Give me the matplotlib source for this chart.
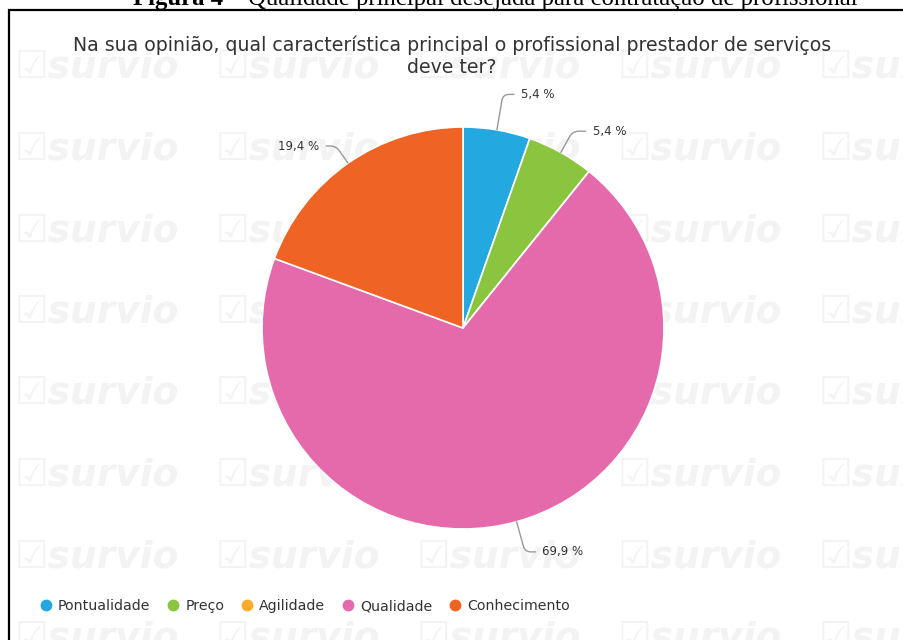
import numpy as np
import matplotlib
matplotlib.use("Agg")
import matplotlib.pyplot as plt
import matplotlib.transforms as mtransforms
from matplotlib.lines import Line2D

# ---- data ----
categories = ["Pontualidade", "Preço", "Agilidade", "Qualidade", "Conhecimento"]
values = [5.4, 5.4, 0.0, 69.9, 19.4]
value_labels = ["5,4 %", "5,4 %", "", "69,9 %", "19,4 %"]
title = "Na sua opinião, qual característica principal o profissional prestador de serviços\ndeve ter?"
caption_bold = "Figura 4"
caption_rest = " – Qualidade principal desejada para contratação de profissional"

# ---- style ----
colors = ["#23a8e0", "#8bc43f", "#fbab2c", "#e46aac", "#ef6424"]
label_angle_shift = [-8.0, -7.5, 0.0, 8.6, 7.2]
label_dist = 1.22

W, H = 904, 640
fig = plt.figure(figsize=(W / 100, H / 100), dpi=100)
fig.patch.set_facecolor("white")

# background axes in pixel coordinates
bg = fig.add_axes([0, 0, 1, 1], zorder=0)
bg.set_xlim(0, W)
bg.set_ylim(H, 0)
bg.axis("off")

# watermarks
for row_y in np.arange(68, 700, 81.5):
    for col_x in np.arange(15, 950, 201):
        bg.text(col_x, row_y, "☑survio", fontsize=27, fontweight="bold",
                fontstyle="italic", color="#f3f3f3", va="center", ha="left",
                family="DejaVu Sans", zorder=0)

# border
bg.plot([9, 9, W + 5], [H + 5, 10, 10], color="black", lw=1.6, zorder=5,
        solid_joinstyle="miter", clip_on=False)

# caption (cut off at top)
cap_size = 17.8
t1 = bg.text(133, 5.5, caption_bold, fontsize=cap_size, fontweight="bold",
             family="Liberation Serif", va="baseline", ha="left", color="black")
fig.canvas.draw()
r = fig.canvas.get_renderer()
bb = t1.get_window_extent(r)
bg.text(bb.x1, 5.5, caption_rest, fontsize=cap_size, family="Liberation Serif",
        va="baseline", ha="left", color="black",
        transform=mtransforms.blended_transform_factory(
            mtransforms.IdentityTransform(), bg.transData))

# title
bg.text(452, 56, title, fontsize=13.6, color="#333333", ha="center",
        va="center", linespacing=1.2, family="DejaVu Sans", zorder=3)

# pie axes: centre (463, 328), radius 201 px
cx, cy, rad = 463, 328, 201
ax = fig.add_axes([(cx - rad) / W, (H - cy - rad) / H, 2 * rad / W, 2 * rad / H], zorder=2)
ax.patch.set_alpha(0)
wedges, _ = ax.pie(values, colors=colors, startangle=90, counterclock=False,
                   radius=1, wedgeprops=dict(edgecolor="white", linewidth=1.2))
ax.set_xlim(-1, 1)
ax.set_ylim(-1, 1)
ax.set_aspect("auto")
ax.axis("off")

for w, lab, shift in zip(wedges, value_labels, label_angle_shift):
    if not lab:
        continue
    mid = 0.5 * (w.theta1 + w.theta2)
    a = np.deg2rad(mid)
    la = np.deg2rad(mid + shift)
    xe, ye = np.cos(a), np.sin(a)
    xt, yt = label_dist * np.cos(la), label_dist * np.sin(la)
    ax.annotate(lab, xy=(xe, ye), xytext=(xt, yt), ha="center", va="center",
                fontsize=8.5, color="#333333", annotation_clip=False,
                arrowprops=dict(arrowstyle="-", color="#999999", lw=1.0,
                                shrinkA=3, shrinkB=0,
                                connectionstyle=f"angle,angleA=0,angleB={mid:.1f},rad=6"))

# legend
handles = [Line2D([0], [0], marker="o", color="none", markerfacecolor=c,
                  markeredgecolor=c, markersize=7.5) for c in colors]
leg = fig.legend(handles, categories, loc="center left",
                 bbox_to_anchor=(29 / W, 1 - 606 / H), ncol=5, frameon=False,
                 fontsize=10.2, handlelength=0.6, handletextpad=0.55,
                 columnspacing=1.3, labelcolor="#333333")

fig.savefig("out.png", dpi=100)
